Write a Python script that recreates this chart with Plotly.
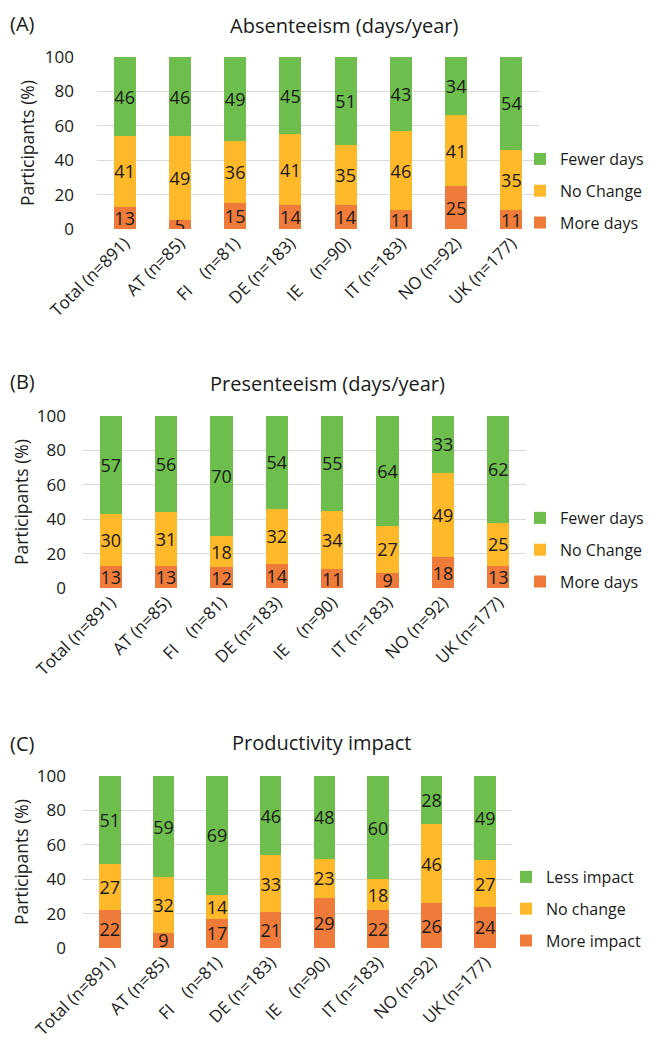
import plotly.graph_objects as go

W, H = 658, 1052
FONT = "Open Sans"
TXT = "#1a1a1a"

categories = ["Total (n=891)", "AT (n=85)", "FI\u00a0\u00a0\u00a0\u00a0(n=81)", "DE (n=183)",
              "IE\u00a0\u00a0\u00a0\u00a0(n=90)", "IT (n=183)", "NO (n=92)", "UK (n=177)"]

# Panel A: Absenteeism (days/year)
abs_more = [13, 5, 15, 14, 14, 11, 25, 11]
abs_nochange = [41, 49, 36, 41, 35, 46, 41, 35]
abs_fewer = [46, 46, 49, 45, 51, 43, 34, 54]

# Panel B: Presenteeism (days/year)
pre_more = [13, 13, 12, 14, 11, 9, 18, 13]
pre_nochange = [30, 31, 18, 32, 34, 27, 49, 25]
pre_fewer = [57, 56, 70, 54, 55, 64, 33, 62]

# Panel C: Productivity impact
prod_more = [22, 9, 17, 21, 29, 22, 26, 24]
prod_nochange = [27, 32, 14, 33, 23, 18, 46, 27]
prod_less = [51, 59, 69, 46, 48, 60, 28, 49]

titles = ["Absenteeism (days/year)", "Presenteeism (days/year)", "Productivity impact"]
panel_tags = ["(A)", "(B)", "(C)"]
legend_names = [["More days", "No Change", "Fewer days"],
                ["More days", "No Change", "Fewer days"],
                ["More impact", "No change", "Less impact"]]

ORANGE = "#EE7B3A"
YELLOW = "#FDB92A"
GREEN = "#6DBE4C"
colors = [ORANGE, YELLOW, GREEN]

panels = [
    [abs_more, abs_nochange, abs_fewer],
    [pre_more, pre_nochange, pre_fewer],
    [prod_more, prod_nochange, prod_less],
]

# pixel layout (left, right, top, bottom) of each plot area
areas = [(97, 539, 57, 229), (83, 526, 416, 588), (83, 512, 776, 948)]
legend_pos = [(520, 191), (520, 550), (506, 909)]
title_pos = [(344, 25), (327, 383), (322, 742)]
tag_pos = [(8, 23), (8, 382), (8, 743)]
ytitle_x = [27, 21, 21]
tickstandoff = [22, 16, 16]

fig = go.Figure()

def px_x(p):
    return p / W

def px_y(p):
    return 1 - p / H

for i, series in enumerate(panels):
    xa = "x" if i == 0 else f"x{i+1}"
    ya = "y" if i == 0 else f"y{i+1}"
    lg = "legend" if i == 0 else f"legend{i+1}"
    for j, vals in enumerate(series):
        fig.add_trace(go.Bar(
            x=categories, y=vals, name=legend_names[i][j],
            marker=dict(color=colors[j], line=dict(width=0)),
            text=[str(v) for v in vals], textposition="inside",
            insidetextanchor="middle", textangle=0,
            textfont=dict(family=FONT, size=18, color=TXT),
            xaxis=xa, yaxis=ya, legend=lg, legendgroup=f"{i}-{j}",
            legendrank=10 - j, hoverinfo="skip",
        ))
    l, r, t, b = areas[i]
    xkey = "xaxis" if i == 0 else f"xaxis{i+1}"
    ykey = "yaxis" if i == 0 else f"yaxis{i+1}"
    fig.update_layout(**{
        xkey: dict(domain=[px_x(l), px_x(r)], anchor=ya, range=[-0.5, 7.5],
                   tickangle=-45, showgrid=False, showline=False, zeroline=False,
                   automargin=False, fixedrange=True,
                   tickfont=dict(family=FONT, size=17, color=TXT), ticks=""),
        ykey: dict(domain=[px_y(b), px_y(t)], anchor=xa, range=[0, 100],
                   tickvals=[0, 20, 40, 60, 80, 100], showgrid=True,
                   gridcolor="#D9D9D9", gridwidth=1, zeroline=False, showline=False,
                   automargin=False, fixedrange=True, ticklabelstandoff=tickstandoff[i],
                   tickfont=dict(family=FONT, size=17, color=TXT), ticks=""),
        lg: dict(x=px_x(legend_pos[i][0]), y=px_y(legend_pos[i][1]),
                 xanchor="left", yanchor="middle", traceorder="grouped",
                 font=dict(family=FONT, size=16, color=TXT), tracegroupgap=8,
                 bgcolor="rgba(0,0,0,0)"),
    })
    fig.add_annotation(text=titles[i], x=px_x(title_pos[i][0]), y=px_y(title_pos[i][1]),
                       xref="paper", yref="paper", showarrow=False,
                       xanchor="center", yanchor="middle",
                       font=dict(family=FONT, size=20, color=TXT))
    fig.add_annotation(text=panel_tags[i], x=px_x(tag_pos[i][0]), y=px_y(tag_pos[i][1]),
                       xref="paper", yref="paper", showarrow=False,
                       xanchor="left", yanchor="middle",
                       font=dict(family=FONT, size=20, color=TXT))
    fig.add_annotation(text="Participants (%)", x=px_x(ytitle_x[i]),
                       y=px_y((t + b) / 2), xref="paper", yref="paper",
                       showarrow=False, textangle=-90, xanchor="center", yanchor="middle",
                       font=dict(family=FONT, size=17.5, color=TXT))

fig.update_layout(
    width=W, height=H, margin=dict(l=0, r=0, t=0, b=0, autoexpand=False),
    barmode="stack", bargap=0.6,
    plot_bgcolor="white", paper_bgcolor="white",
    uniformtext=dict(minsize=18, mode="show"),
    showlegend=True,
)

fig.write_html("out.html", config={"displayModeBar": False},
               post_script="document.body.style.margin='0px';document.body.style.overflow='hidden';")
